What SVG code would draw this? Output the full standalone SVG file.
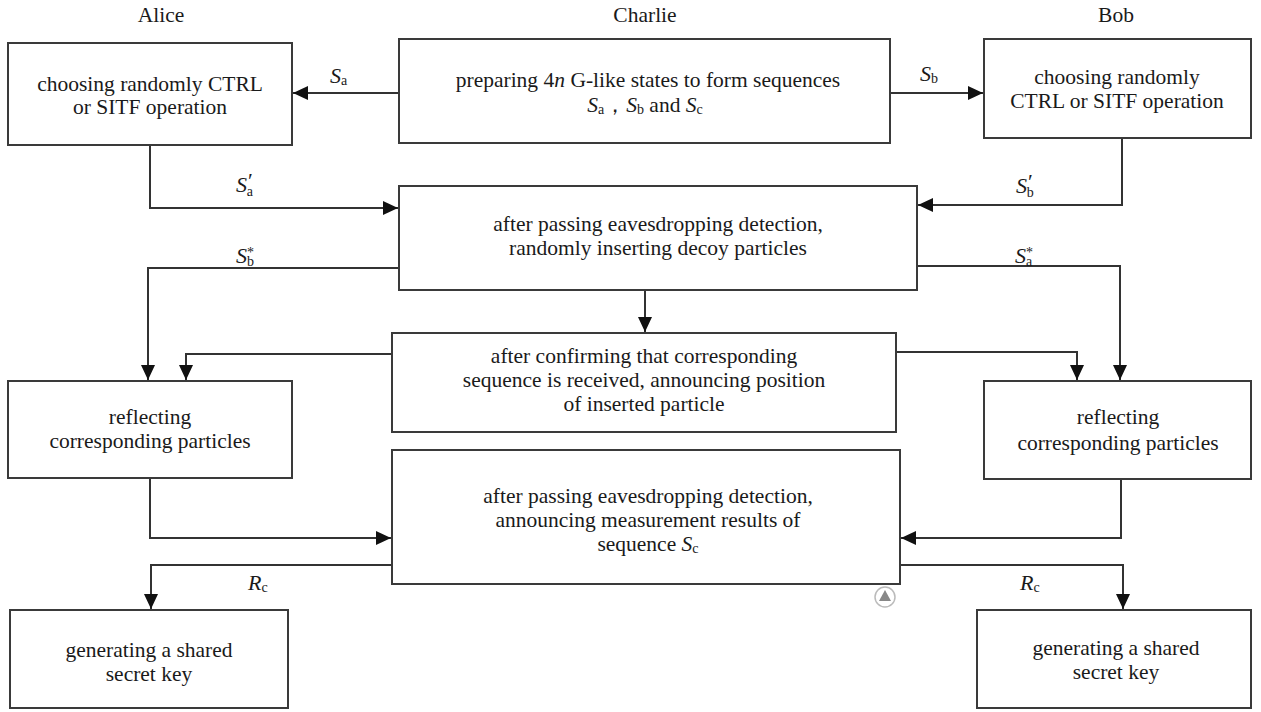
<svg xmlns="http://www.w3.org/2000/svg" width="1261" height="712" viewBox="0 0 1261 712">
<style>
.box{fill:#fff;stroke:#3a3a3a;stroke-width:2}
.t{font-family:"Liberation Serif","Times New Roman",serif;font-size:21.5px;fill:#1a1a1a;text-anchor:middle}
.l{font-family:"Liberation Serif","Times New Roman",serif;font-size:22px;fill:#1a1a1a}
.i{font-style:italic}
.s{font-size:14px}
.c{fill:none;stroke:#333;stroke-width:2}
</style>
<defs>
<marker id="ah" markerUnits="userSpaceOnUse" markerWidth="16" markerHeight="14" refX="15" refY="7" orient="auto">
<path d="M0,0 L15,7 L0,14 z" fill="#111"/>
</marker>
</defs>
<g id="headers">
<text class="t" x="161" y="22">Alice</text>
<text class="t" x="645" y="22">Charlie</text>
<text class="t" x="1116" y="22">Bob</text>
</g>
<g id="connectors">
<path class="c" d="M399,93 H293" marker-end="url(#ah)"/>
<path class="c" d="M890,93 H983" marker-end="url(#ah)"/>
<path class="c" d="M150,145 V208 H398" marker-end="url(#ah)"/>
<path class="c" d="M1122,138 V205 H918" marker-end="url(#ah)"/>
<path class="c" d="M399,268 H148 V380" marker-end="url(#ah)"/>
<path class="c" d="M917,266 H1120 V380" marker-end="url(#ah)"/>
<path class="c" d="M645,290 V332" marker-end="url(#ah)"/>
<path class="c" d="M392,354 H186 V380" marker-end="url(#ah)"/>
<path class="c" d="M896,352 H1077 V380" marker-end="url(#ah)"/>
<path class="c" d="M150,478 V538 H391" marker-end="url(#ah)"/>
<path class="c" d="M1121,479 V538 H901" marker-end="url(#ah)"/>
<path class="c" d="M392,565 H151 V609" marker-end="url(#ah)"/>
<path class="c" d="M900,565 H1123 V609" marker-end="url(#ah)"/>
<text class="l" x="330" y="83"><tspan class="i">S</tspan><tspan class="s" dy="2">a</tspan></text>
<text class="l" x="920" y="81"><tspan class="i">S</tspan><tspan class="s" dy="2">b</tspan></text>
<text class="l" x="236" y="192"><tspan class="i">S</tspan><tspan dx="1" dy="-4">′</tspan><tspan class="s" dx="-6" dy="8">a</tspan></text>
<text class="l" x="1016" y="193"><tspan class="i">S</tspan><tspan dx="1" dy="-4">′</tspan><tspan class="s" dx="-6" dy="8">b</tspan></text>
<text class="l" x="236" y="263"><tspan class="i">S</tspan><tspan class="s" dy="-6">*</tspan><tspan class="s" dx="-7" dy="9">b</tspan></text>
<text class="l" x="1015" y="263"><tspan class="i">S</tspan><tspan class="s" dy="-6">*</tspan><tspan class="s" dx="-7" dy="9">a</tspan></text>
<text class="l" x="248" y="590"><tspan class="i">R</tspan><tspan class="s" dy="2">c</tspan></text>
<text class="l" x="1020" y="590"><tspan class="i">R</tspan><tspan class="s" dy="2">c</tspan></text>
</g>
<g id="alice-choose">
<rect class="box" x="8" y="43" width="284" height="102"/>
<text class="t" x="150" y="91">choosing randomly CTRL</text>
<text class="t" x="150" y="114">or SITF operation</text>
</g>
<g id="charlie-prepare">
<rect class="box" x="399" y="39" width="491" height="104"/>
<text class="t" x="648" y="87">preparing 4<tspan class="i">n</tspan> G-like states to form sequences</text>
<text class="t" x="645" y="112"><tspan class="i">S</tspan><tspan class="s" dy="2">a</tspan><tspan dy="-2">，</tspan><tspan class="i">S</tspan><tspan class="s" dy="2">b</tspan><tspan dy="-2"> and </tspan><tspan class="i">S</tspan><tspan class="s" dy="2">c</tspan></text>
</g>
<g id="bob-choose">
<rect class="box" x="984" y="39" width="267" height="99"/>
<text class="t" x="1117" y="84">choosing randomly</text>
<text class="t" x="1117" y="108">CTRL or SITF operation</text>
</g>
<g id="charlie-insert">
<rect class="box" x="399" y="186" width="518" height="104"/>
<text class="t" x="658" y="231">after passing eavesdropping detection,</text>
<text class="t" x="658" y="255">randomly inserting decoy particles</text>
</g>
<g id="charlie-announce-position">
<rect class="box" x="392" y="333" width="504" height="99"/>
<text class="t" x="644" y="363">after confirming that corresponding</text>
<text class="t" x="644" y="387">sequence is received, announcing position</text>
<text class="t" x="644" y="411">of inserted particle</text>
</g>
<g id="alice-reflect">
<rect class="box" x="8" y="381" width="284" height="97"/>
<text class="t" x="150" y="424">reflecting</text>
<text class="t" x="150" y="448">corresponding particles</text>
</g>
<g id="bob-reflect">
<rect class="box" x="984" y="381" width="267" height="98"/>
<text class="t" x="1118" y="424">reflecting</text>
<text class="t" x="1118" y="450">corresponding particles</text>
</g>
<g id="charlie-announce-results">
<rect class="box" x="392" y="450" width="508" height="134"/>
<text class="t" x="648" y="503">after passing eavesdropping detection,</text>
<text class="t" x="648" y="527">announcing measurement results of</text>
<text class="t" x="648" y="551">sequence <tspan class="i">S</tspan><tspan class="s" dy="2">c</tspan></text>
</g>
<g id="alice-key">
<rect class="box" x="10" y="610" width="278" height="98"/>
<text class="t" x="149" y="657">generating a shared</text>
<text class="t" x="149" y="681">secret key</text>
</g>
<g id="bob-key">
<rect class="box" x="977" y="610" width="274" height="98"/>
<text class="t" x="1116" y="655">generating a shared</text>
<text class="t" x="1116" y="679">secret key</text>
</g>
<g id="ui-mark">
<circle cx="885" cy="597" r="10" fill="#fff" stroke="#bbb" stroke-width="1.5"/>
<path d="M885,590 L891,601 H879 z" fill="#888"/>
</g>
</svg>
